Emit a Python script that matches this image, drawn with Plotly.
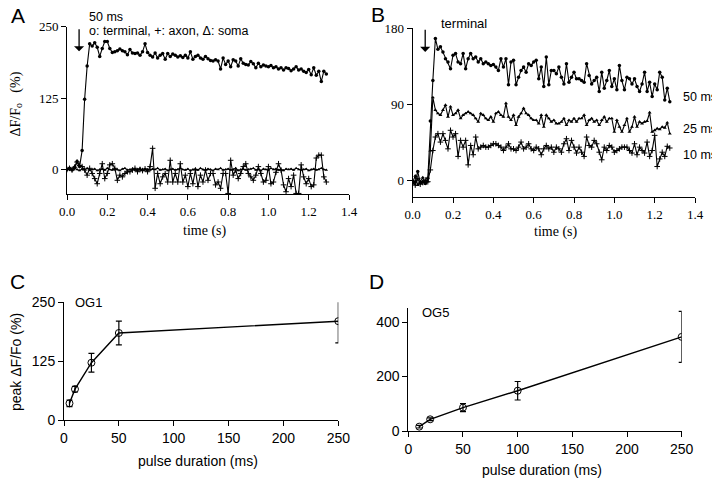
import plotly.graph_objects as go

# The figure is sized so that, with the page's default 8 px body margin, the whole
# page is exactly the 720x481 window.
OFF = 8
W, H = 720 - OFF, 481 - OFF
DT = 0.0125  # sample interval (s)

# ---------------- Panel A data (ΔF/Fo %, 50 ms pulse) ----------------
terminal_A = [0, 2, -1, 4, 14, 5, 33, 123, 181, 220,
              216, 222, 214, 198, 212, 224, 224, 212, 205, 206,
              208, 211, 208, 206, 201, 210, 204, 203, 204, 200,
              206, 220, 205, 200, 197, 204, 195, 200, 203, 193,
              203, 198, 202, 200, 197, 199, 196, 200, 195, 206,
              193, 198, 200, 195, 193, 198, 194, 191, 190, 192,
              190, 176, 195, 184, 190, 180, 192, 190, 181, 194,
              186, 184, 183, 189, 185, 178, 186, 180, 183, 181,
              180, 182, 178, 180, 176, 178, 174, 178, 177, 173,
              176, 180, 174, 176, 172, 170, 175, 166, 178, 165,
              172, 154, 172, 167]
axon_A = [0, 2, -1, 4, 13, 7, 5, -1, -10, 2,
          -7, -16, -25, -7, 10, -16, -7, 8, 10, 2,
          -19, -10, -13, -7, -4, -4, -1, 2, -4, 0,
          -2, 1, -4, 5, 37, -33, -7, -25, -13, -7,
          -22, 16, -22, -7, -22, 10, -22, -10, -30, -7,
          -25, -1, -30, -10, -22, -1, -19, -7, -7, -27,
          -22, -33, -7, -7, -42, 16, -10, -1, -16, -7,
          5, 10, -7, -13, -19, -10, 5, -7, -22, -19,
          5, -25, -22, -5, 10, -1, -27, -39, -16, -30,
          -10, -42, -42, 8, -13, -25, -16, -30, -27, 20,
          25, 25, -13, -22]
soma_A = [0, 1, -1, 2, 0, -2, 1, 0, 2, -1,
          0, 1, -2, 0, 1, -1, 2, 0, -1, 1,
          0, -2, 1, 2, -1, 0, 1, -1, 0, 2,
          -2, 1, 0, -1, 1, 0, 2, -1, 0, 1,
          -2, 0, 1, -1, 0, 2, 0, -1, 1, -2,
          0, 1, -1, 2, 0, -1, 1, 0, -2, 1,
          0, 2, -1, 0, 1, -1, 0, 2, -2, 0,
          1, -1, 0, 1, 2, -1, 0, -2, 1, 0,
          -1, 2, 0, 1, -1, 0, -2, 1, 0, 1,
          -1, 2, 0, -1, 0, 1, -2, 0, 1, -1,
          0, 2, 0, -1]

# ---------------- Panel B data (terminal, three pulse durations) ----------------
b_50ms = [-2, -2, 10, -3, -2, -4, 2, 70, 118, 168,
          155, 158, 152, 144, 140, 132, 148, 150, 140, 138,
          150, 132, 144, 150, 144, 146, 140, 144, 138, 140,
          138, 136, 137, 134, 130, 144, 134, 144, 113, 140,
          142, 113, 122, 130, 134, 128, 138, 136, 140, 142,
          120, 134, 111, 146, 113, 130, 130, 126, 134, 122,
          114, 138, 116, 122, 128, 120, 120, 118, 116, 138,
          124, 114, 118, 122, 105, 128, 109, 118, 130, 111,
          120, 107, 136, 118, 107, 122, 120, 114, 120, 111,
          105, 114, 128, 105, 116, 99, 114, 107, 128, 122,
          95, 109, 93]
b_25ms = [-3, 5, -6, -2, 3, -4, -2, 35, 98, 83,
          79, 77, 83, 89, 75, 87, 77, 79, 83, 73,
          77, 79, 81, 79, 77, 73, 69, 79, 77, 73,
          71, 75, 69, 79, 81, 77, 75, 91, 75, 71,
          77, 65, 75, 79, 85, 79, 77, 73, 71, 71,
          67, 77, 63, 77, 73, 69, 71, 67, 67, 69,
          73, 65, 71, 69, 73, 69, 73, 73, 77, 65,
          71, 73, 69, 71, 65, 71, 75, 69, 73, 73,
          57, 71, 63, 57, 65, 73, 57, 63, 75, 63,
          69, 67, 69, 70, 80, 57, 59, 61, 60, 63,
          62, 68, 55]
b_10ms = [-4, -6, 2, -5, -3, 0, -2, 12, 35, 51,
          55, 45, 55, 47, 37, 59, 51, 55, 28, 47,
          39, 47, 18, 41, 30, 51, 37, 39, 41, 39,
          39, 41, 43, 43, 41, 39, 35, 39, 43, 37,
          37, 35, 39, 45, 37, 39, 43, 37, 35, 39,
          37, 30, 37, 41, 37, 39, 33, 39, 37, 33,
          43, 49, 35, 47, 39, 32, 39, 33, 28, 51,
          41, 39, 47, 43, 33, 24, 39, 35, 41, 39,
          33, 35, 37, 39, 39, 39, 35, 32, 43, 30,
          39, 35, 32, 45, 28, 35, 53, 16, 25, 33,
          28, 40, 38]

# ---------------- Panel C / D data ----------------
og1_dur = [5, 10, 25, 50, 250]
og1_peak = [36, 66, 122, 185, 210]
og1_err = [7, 6, 20, 25, 46]
og5_dur = [10, 20, 50, 100, 250]
og5_peak = [16, 43, 86, 148, 346]
og5_err = [5, 5, 15, 34, 94]

time_ticks = [0.0, 0.2, 0.4, 0.6, 0.8, 1.0, 1.2, 1.4]
time_ticktext = ["0.0", "0.2", "0.4", "0.6", "0.8", "1.0", "1.2", "1.4"]


def times(vals):
    return [round(i * DT, 4) for i in range(len(vals))]


def px(x):
    # window x pixel -> paper fraction
    return (x - OFF) / W


def py(y):
    # window y pixel -> paper fraction
    return 1 - (y - OFF) / H


SERIF = "Liberation Serif"
SANS = "Liberation Sans"
BLK = "black"

fig = go.Figure()

line = dict(color=BLK, width=1.1)
# Panel A
fig.add_trace(go.Scatter(x=times(soma_A), y=soma_A, mode="lines+markers", line=line,
                         marker=dict(symbol="triangle-up", size=3, color=BLK),
                         xaxis="x", yaxis="y", name="soma"))
fig.add_trace(go.Scatter(x=times(axon_A), y=axon_A, mode="lines+markers", line=line,
                         marker=dict(symbol="cross-thin", size=4, line=dict(color=BLK, width=1)),
                         xaxis="x", yaxis="y", name="axon"))
fig.add_trace(go.Scatter(x=times(terminal_A), y=terminal_A, mode="lines+markers", line=line,
                         marker=dict(symbol="circle", size=3.5, color=BLK),
                         xaxis="x", yaxis="y", name="terminal"))
# Panel B
fig.add_trace(go.Scatter(x=times(b_10ms), y=b_10ms, mode="lines+markers", line=line,
                         marker=dict(symbol="cross-thin", size=4, line=dict(color=BLK, width=1)),
                         xaxis="x2", yaxis="y2", name="10 ms"))
fig.add_trace(go.Scatter(x=times(b_25ms), y=b_25ms, mode="lines+markers", line=line,
                         marker=dict(symbol="triangle-up", size=3.5, color=BLK),
                         xaxis="x2", yaxis="y2", name="25 ms"))
fig.add_trace(go.Scatter(x=times(b_50ms), y=b_50ms, mode="lines+markers", line=line,
                         marker=dict(symbol="circle", size=3.5, color=BLK),
                         xaxis="x2", yaxis="y2", name="50 ms"))
# Panel C
fig.add_trace(go.Scatter(x=og1_dur, y=og1_peak, mode="lines+markers",
                         line=dict(color=BLK, width=1.4),
                         marker=dict(symbol="circle-open", size=7, color=BLK, line=dict(width=1)),
                         error_y=dict(type="data", array=og1_err, color=BLK, thickness=1.2, width=3),
                         xaxis="x3", yaxis="y3", name="OG1"))
# Panel D
fig.add_trace(go.Scatter(x=og5_dur, y=og5_peak, mode="lines+markers",
                         line=dict(color=BLK, width=1.4),
                         marker=dict(symbol="circle-open", size=7, color=BLK, line=dict(width=1)),
                         error_y=dict(type="data", array=og5_err, color=BLK, thickness=1.2, width=3),
                         xaxis="x4", yaxis="y4", name="OG5"))


def ax(domain, rng, tickvals, ticktext=None, font=None, anchor=None):
    d = dict(domain=domain, range=rng, tickvals=tickvals, showline=True, linecolor=BLK,
             linewidth=1, ticks="outside", ticklen=5, tickcolor=BLK, tickwidth=1,
             showgrid=False, zeroline=False, tickfont=font, anchor=anchor, fixedrange=True,
             automargin=False)
    if ticktext is not None:
        d["ticktext"] = ticktext
    return d


serif_tick = dict(family=SERIF, size=13, color=BLK)
sans_tick = dict(family=SANS, size=14, color=BLK)

fig.update_layout(
    width=W, height=H, margin=dict(l=0, r=0, t=0, b=0, pad=0, autoexpand=False),
    paper_bgcolor="white", plot_bgcolor="white", showlegend=False,
    xaxis=ax([px(67), px(349)], [0, 1.4], time_ticks, time_ticktext, serif_tick, "y"),
    yaxis=ax([py(194), py(26.7)], [-43, 250], [0, 125, 250], None, serif_tick, "x"),
    xaxis2=ax([px(412.7), px(695)], [0, 1.4], time_ticks, time_ticktext, serif_tick, "y2"),
    yaxis2=ax([py(197.3), py(28.3)], [-20.5, 180], [0, 90, 180], None, serif_tick, "x2"),
    xaxis3=ax([px(64), px(338.3)], [0, 250], [0, 50, 100, 150, 200, 250], None, sans_tick, "y3"),
    yaxis3=ax([py(420.3), py(302.3)], [0, 250], [0, 125, 250], None, sans_tick, "x3"),
    xaxis4=ax([px(408.3), px(681.7)], [0, 250], [0, 50, 100, 150, 200, 250], None, sans_tick, "y4"),
    yaxis4=ax([py(431), py(308.3)], [0, 451], [0, 200, 400], None, sans_tick, "x4"),
)

ann = []


def text(x, y, s, size, family=SANS, xanchor="center", angle=0):
    ann.append(dict(x=px(x), y=py(y), xref="paper", yref="paper", text=s, showarrow=False,
                    xanchor=xanchor, yanchor="middle", textangle=angle,
                    font=dict(family=family, size=size, color=BLK)))


# panel letters
text(18, 16, "A", 21)
text(378, 15, "B", 21)
text(17, 281.5, "C", 21)
text(376.5, 281.5, "D", 21)
# panel A texts
text(87, 17, "50 ms", 12.5, xanchor="left")
text(87, 31, "o: terminal, +: axon, Δ: soma", 12.5, xanchor="left")
text(16.5, 104, "ΔF/F<sub>o</sub>\u00a0\u00a0\u00a0(%)", 14, family=SERIF, angle=-90)
text(204, 231, "time (s)", 14, family=SERIF)
# panel B texts
text(439, 23, "terminal", 13, xanchor="left")
text(681, 97, "50 ms", 12.5, xanchor="left")
text(681, 128.5, "25 ms", 12.5, xanchor="left")
text(681, 155, "10 ms", 12.5, xanchor="left")
text(555, 232, "time (s)", 14, family=SERIF)
# panel C texts
text(73, 302, "OG1", 13, xanchor="left")
text(16, 362, "peak ΔF/Fo (%)", 14, angle=-90)
text(198, 461, "pulse duration (ms)", 14)
# panel D texts
text(420, 312, "OG5", 13, xanchor="left")
text(541.5, 470, "pulse duration (ms)", 14)

# stimulus arrows
ann.append(dict(x=0.06, y=207, xref="x", yref="y", ax=0.06, ay=248, axref="x", ayref="y",
                text="", showarrow=True, arrowhead=1, arrowsize=1.3, arrowwidth=1.3,
                arrowcolor=BLK, standoff=0))
ann.append(dict(x=0.062, y=152, xref="x2", yref="y2", ax=0.062, ay=180, axref="x2", ayref="y2",
                text="", showarrow=True, arrowhead=1, arrowsize=1.3, arrowwidth=1.3,
                arrowcolor=BLK, standoff=0))

fig.update_layout(annotations=ann)
fig.write_html("out.html")
